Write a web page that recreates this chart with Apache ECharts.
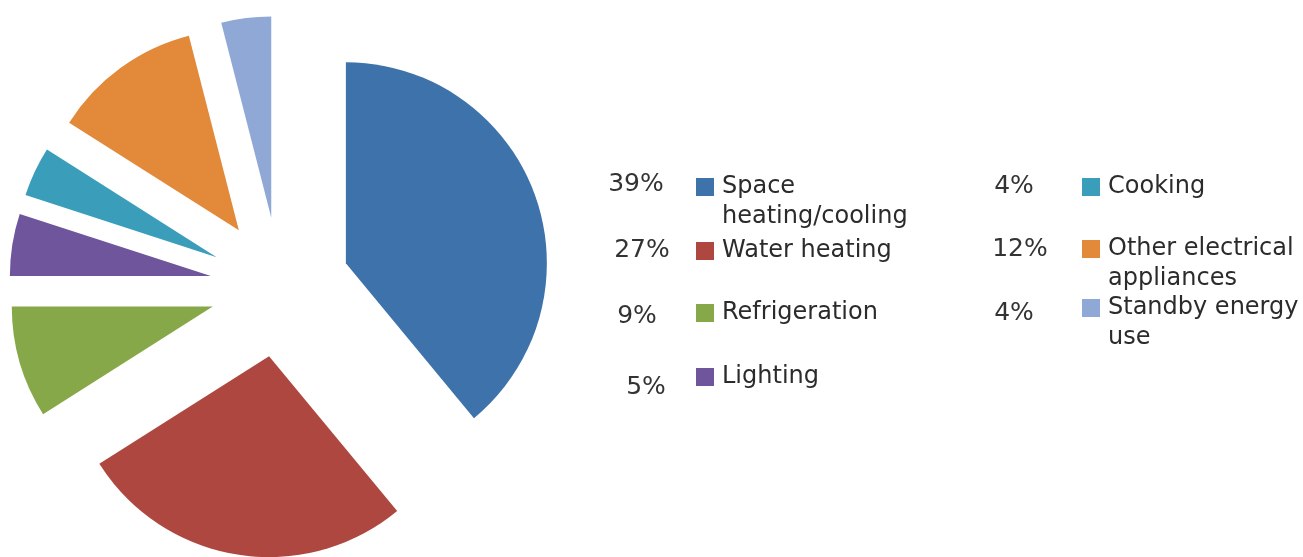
<!DOCTYPE html>
<html>
<head>
<meta charset="utf-8">
<script src="https://cdn.jsdelivr.net/npm/echarts@6/dist/echarts.min.js"></script>
<style>
  html, body { margin: 0; padding: 0; background: #ffffff; }
  #chart { width: 1303px; height: 557px; }
</style>
</head>
<body>
<div id="chart"></div>
<script>
// ---- data ----
const categories = [
  'Space\nheating/cooling',
  'Water heating',
  'Refrigeration',
  'Lighting',
  'Cooking',
  'Other electrical\nappliances',
  'Standby energy\nuse'
];
const shares = [39, 27, 9, 5, 4, 12, 4];
const colors = ['#3E72AB', '#AE4740', '#87A848', '#6E559C', '#3A9DBA', '#E2893A', '#8FA8D6'];

// ---- layout (style only) ----
const legendPos = [
  { x: 696, y: 187 }, { x: 696, y: 251 }, { x: 696, y: 313 }, { x: 696, y: 377 },
  { x: 1082, y: 187 }, { x: 1082, y: 249 }, { x: 1082, y: 308 }
];
const pctPos = [
  { x: 636, y: 184 }, { x: 642, y: 250 }, { x: 637, y: 316 }, { x: 646, y: 387 },
  { x: 1014, y: 186 }, { x: 1020, y: 249 }, { x: 1014, y: 313 }
];

const FONT = '"DejaVu Sans", Verdana, sans-serif';
const FS = 24;
const LH = 30;

const chart = echarts.init(document.getElementById('chart'), null, { renderer: 'canvas' });

const legends = categories.map((name, i) => {
  const twoLine = name.indexOf('\n') >= 0;
  return {
    show: true,
    orient: 'vertical',
    left: legendPos[i].x,
    top: twoLine ? legendPos[i].y - 9 - 36 : legendPos[i].y - 9 - 6,
    padding: 0,
    itemWidth: 18,
    itemHeight: 18,
    itemGap: 0,
    selectedMode: false,
    icon: 'rect',
    // a leading empty line keeps the first line of a two-line label level with its colour square
    formatter: n => (n.indexOf('\n') >= 0 ? '\n' + n : n),
    data: [{ name: name, itemStyle: { color: colors[i] } }],
    textStyle: {
      fontFamily: FONT,
      fontSize: FS,
      color: '#2b2b2b',
      lineHeight: LH,
      padding: [0, 0, 0, 3]
    }
  };
});

const pctTexts = shares.map((v, i) => ({
  type: 'text',
  x: pctPos[i].x,
  y: pctPos[i].y,
  style: {
    text: v + '%',
    fontFamily: FONT,
    fontSize: 25,
    fill: '#333333',
    align: 'center',
    verticalAlign: 'middle'
  }
}));

chart.setOption({
  animation: false,
  backgroundColor: '#ffffff',
  legend: legends,
  graphic: pctTexts,
  series: [{
    type: 'pie',
    center: [280, 287],
    radius: 201,
    startAngle: 90,
    clockwise: true,
    selectedMode: 'multiple',
    selectedOffset: 70,
    avoidLabelOverlap: false,
    label: { show: false },
    labelLine: { show: false },
    emphasis: { disabled: true },
    itemStyle: { borderWidth: 0 },
    data: categories.map((name, i) => ({
      name: name,
      value: shares[i],
      selected: true,
      itemStyle: { color: colors[i] }
    }))
  }]
});
</script>
</body>
</html>
